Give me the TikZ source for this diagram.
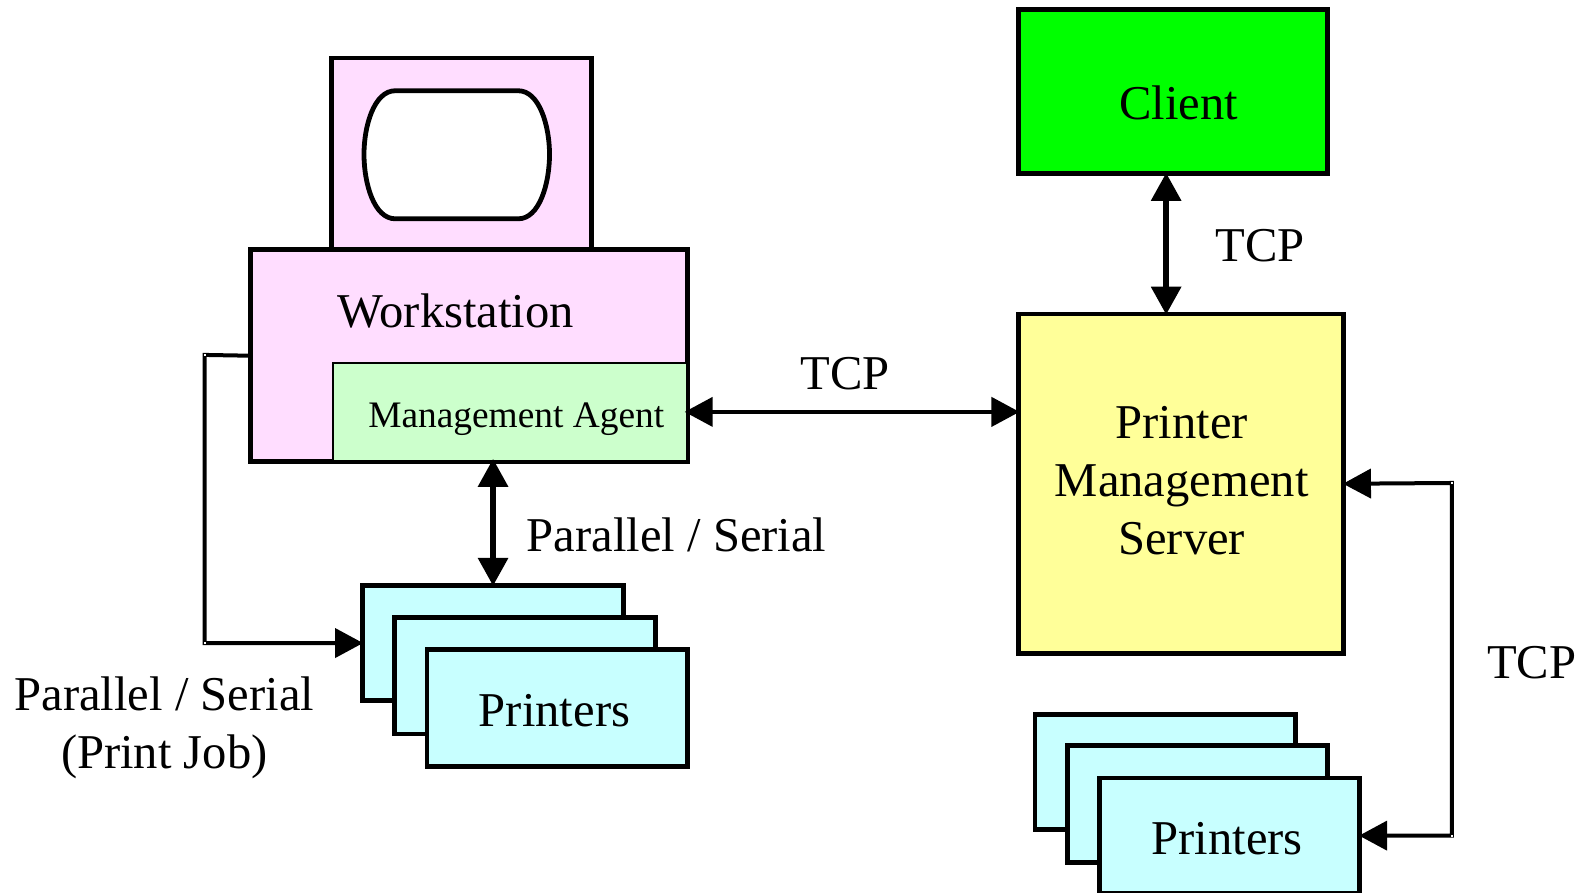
\documentclass[tikz,border=0pt]{standalone}
\usepackage{fontspec}
\setmainfont{Liberation Serif}
\usetikzlibrary{arrows.meta}
\newcommand\bx[6]{\node[#6,minimum width={(#4-#2)*0.5042pt},minimum height={(#5-#3)*0.5042pt}] (#1) at ({(#2+#4)/2},{(#3+#5)/2}) {};}
\tikzset{
  x=0.5042pt,y=-0.5042pt,
  boxshape/.style={draw=black,rectangle,line width=2.4pt,inner sep=0pt},
  pink/.style={boxshape,fill=wsfill},
  agentbox/.style={draw=black,rectangle,inner sep=0pt,line width=1pt,fill=agfill},
  prbox/.style={boxshape,fill=prfill},
  clbox/.style={boxshape,fill=clfill},
  svbox/.style={boxshape,fill=svfill},
  lbl/.style={font=\fontsize{24.3pt}{29pt}\selectfont,align=center,inner sep=0pt,text=black},
  small/.style={font=\fontsize{18.7pt}{22pt}\selectfont,inner sep=0pt,text=black},
  link/.style={draw=black,line width=2pt,shorten <=-1.5pt,shorten >=-1.5pt,{Triangle[length=14pt,width=14.5pt]}-{Triangle[length=14pt,width=14.5pt]}},
  linkthick/.style={link,line width=3pt},
  onelink/.style={draw=black,line width=2pt,shorten >=-1.5pt,-{Triangle[length=14pt,width=14.5pt]}},
  pip/.style={fill=white,minimum size=1pt,inner sep=0pt,rectangle},
}
\definecolor{wsfill}{HTML}{FFDDFF}
\definecolor{agfill}{HTML}{CCFFCC}
\definecolor{prfill}{HTML}{C8FFFF}
\definecolor{clfill}{HTML}{00FF00}
\definecolor{svfill}{HTML}{FFFF99}
\begin{document}
\begin{tikzpicture}
\useasboundingbox (0,0) rectangle (1568,884.7);
\fill[white] (0,0) rectangle (1568,884.7);
% workstation
\bx{mon}{328.5}{57.5}{586.5}{250}{pink}
\draw[line width=2.4pt,fill=white] (392,90) -- (514,90)
  .. controls (535,90) and (545,125) .. (545,153)
  .. controls (545,182) and (535,217) .. (514,217)
  -- (392,217)
  .. controls (371,217) and (361,182) .. (361,153)
  .. controls (361,125) and (371,90) .. (392,90) -- cycle;
\bx{ws}{248.5}{247.5}{681.5}{458}{pink}
\bx{agent}{330}{360}{681}{457}{agentbox}
% left printers
\bx{prA}{359.5}{580.5}{618.5}{695}{prbox}
\bx{prB}{391.5}{612.5}{650.5}{728}{prbox}
\bx{prC}{423.5}{644.5}{681.5}{760}{prbox}
% client and server
\bx{cl}{1010.5}{9.5}{1316.5}{172}{clbox}
\bx{sv}{1010.5}{311.5}{1332.5}{648}{svbox}
% right printers
\bx{prD}{1026.5}{708.5}{1284.5}{823}{prbox}
\bx{prE}{1058.5}{739.5}{1316.5}{855}{prbox}
\bx{prF}{1090.5}{771.5}{1348.5}{886}{prbox}
% corners
\coordinate (bendA) at (203,352);
\coordinate (bendB) at (1440,479);
% connectors
\draw[onelink] (ws.west) -- (bendA) |- (prA.west);
\draw[linkthick] (prA.north) -- (prA.north |- agent.south);
\draw[link] (agent.east) -- (agent.east -| sv.west);
\draw[linkthick] ([xshift=-3.5pt]cl.south) -- ([xshift=-3.5pt]cl.south |- sv.north);
\draw[link] (sv.east) -- (bendB) |- (prF.east);
\node[pip] (pipA) at (bendA) {};
\node[pip] (pipB) at (bendA |- prA.west) {};
\node[pip] (pipC) at (bendB) {};
\node[pip] (pipD) at (bendB |- prF.east) {};
% text
\node[lbl] (tws) at (452,308) {Workstation};
\node[small] (tag) at (512,416) {Management Agent};
\node[lbl] (tcl) at (1169,102) {Client};
\node[lbl] (tsv) at (1172,477) {Printer\\Management\\Server};
\node[lbl] (tpa) at (550,705) {Printers};
\node[lbl] (tpb) at (1217,832) {Printers};
\node[lbl] (t1) at (1250,244) {TCP};
\node[lbl] (t2) at (838,371) {TCP};
\node[lbl] (t3) at (1519,657) {TCP};
\node[lbl] (t4) at (671,530) {Parallel / Serial};
\node[lbl] (t5) at (163,722) {Parallel / Serial\\(Print Job)};
\end{tikzpicture}
\end{document}
